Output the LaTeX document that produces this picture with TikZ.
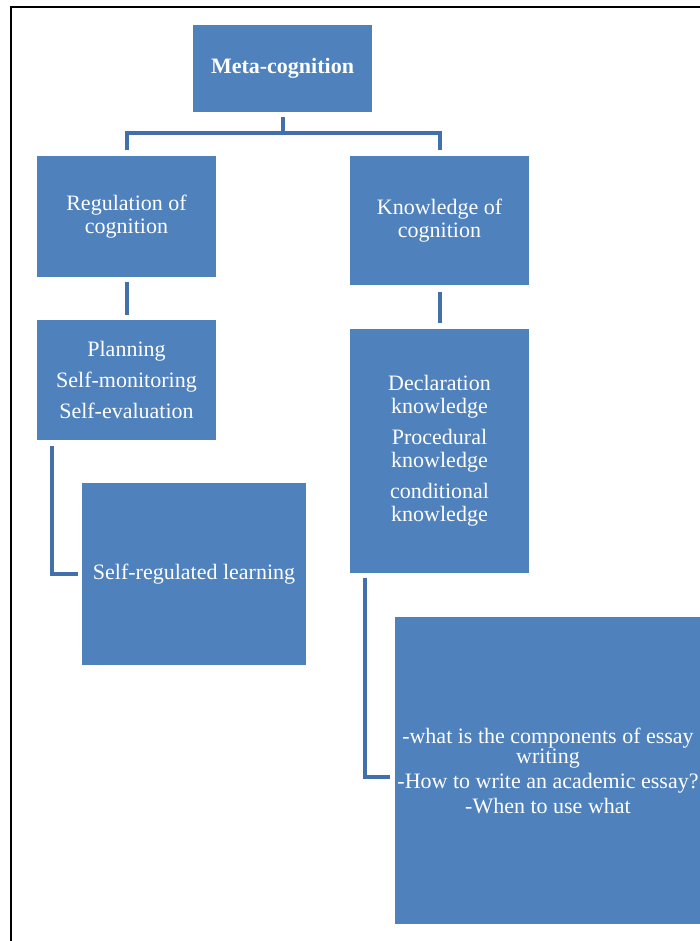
\documentclass[tikz,border=0pt]{standalone}
\usepackage{fontspec}
\setmainfont{Liberation Serif}
\usetikzlibrary{positioning}
\definecolor{boxblue}{HTML}{4F81BD}
\definecolor{linkblue}{HTML}{4270AA}
\tikzset{
    topic/.style={draw=none, fill=boxblue, text=white, align=center,
        inner sep=2pt, font=\fontsize{22}{23}\selectfont},
    link/.style={draw=linkblue, line width=4pt},
    frame/.style={draw=black, line width=2pt}
}
\begin{document}
\begin{tikzpicture}[x=1pt, y=-1pt]
    \useasboundingbox (0,0) rectangle (699,941);

    % Rahmen
    \draw[frame] (700,7) -- (11,7) -- (11,942);

    % Die Kästen
    \node[topic, minimum width=179pt, minimum height=87pt] (meta) at (282.5,68.5) {\textbf{Meta-cognition}};
    \node[topic, minimum width=179pt, minimum height=121pt] (regul) at (126.5,216.5) {Regulation of\\cognition};
    \node[topic, minimum width=179pt, minimum height=129pt] (knowl) at (439.5,220.5) {Knowledge of\\cognition};
    \node[topic, minimum width=179pt, minimum height=120pt] (plan) at (126.5,380) {Planning\\[8pt]Self-monitoring\\[8pt]Self-evaluation};
    \node[topic, minimum width=179pt, minimum height=244pt] (decl) at (439.5,451) {Declaration\\knowledge\\[8pt]Procedural\\knowledge\\[8pt]conditional\\knowledge};
    \node[topic, minimum width=224pt, minimum height=182pt] (srl) at (194,574) {Self-regulated learning};
    \node[topic, minimum width=306pt, minimum height=307pt] (essay) at (548,770.5) {-what is the components of essay\\[-3pt]writing\\[2pt]-How to write an academic essay?\\[2pt]-When to use what};

    % Verbindungen
    \coordinate (split) at (282.5,133);
    \draw[link, shorten <=5pt] (meta) -- (split);
    \draw[link, shorten <=6pt, shorten >=6pt] (regul.north) |- (split) -| (knowl.north);
    \draw[link, shorten <=5pt, shorten >=5pt] (regul) -- (plan);
    \draw[link, shorten <=7pt, shorten >=6pt] (knowl) -- (decl);
    \draw[link, shorten <=6pt, shorten >=4pt] ([xshift=15pt]plan.south west) |- (srl.west);
    \draw[link, shorten <=5pt, shorten >=5pt] ([xshift=15pt]decl.south west) |- ([yshift=-6pt]essay.west);
\end{tikzpicture}
\end{document}
